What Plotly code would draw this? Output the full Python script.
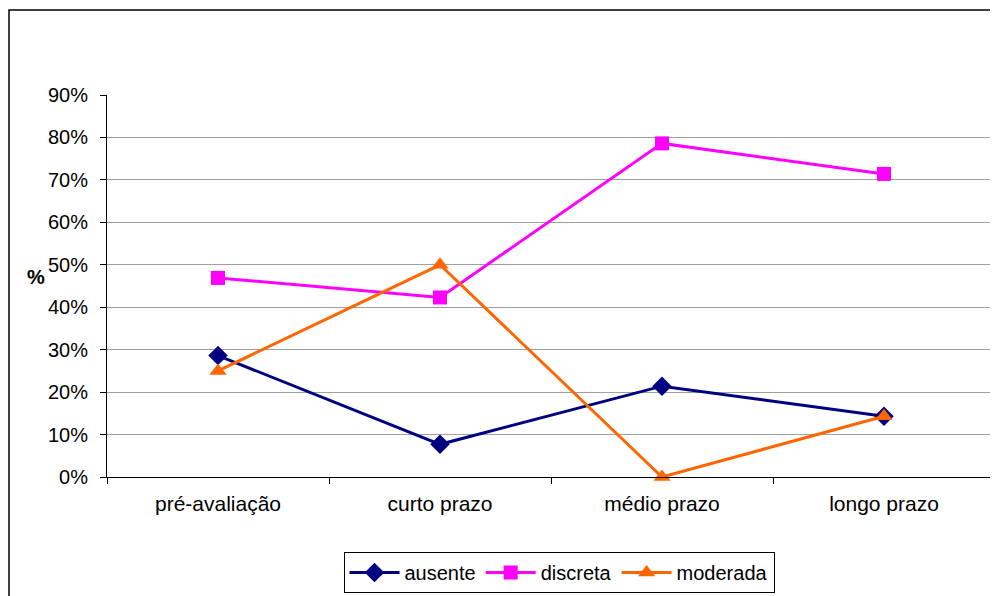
import plotly.graph_objects as go

categorias = ["pré-avaliação", "curto prazo", "médio prazo", "longo prazo"]
ausente = [28.6, 7.7, 21.4, 14.3]
discreta = [46.9, 42.3, 78.6, 71.4]
moderada = [25.0, 50.0, 0.0, 14.3]

# a página tem margem de 8px no body, por isso a figura é menor
OFF = 8
W, H = 998 - OFF, 596 - OFF
L, R, T = 107 - OFF, 3, 95 - OFF
B = H - (477 - OFF)
pw, ph = W - L - R, H - T - B

def px_x(x):
    return (x - OFF - L) / pw

def px_y(y):
    return (H - B - (y - OFF)) / ph

fig = go.Figure()
series = [
    ("ausente", ausente, "#000080", "diamond", 15),
    ("discreta", discreta, "#FF00FF", "square", 14),
    ("moderada", moderada, "#FF6600", "triangle-up", 15),
]
for nome, vals, cor, simb, tam in series:
    fig.add_trace(go.Scatter(
        x=categorias, y=vals, name=nome, mode="lines+markers",
        line=dict(color=cor, width=3),
        marker=dict(symbol=simb, size=tam, color=cor),
        cliponaxis=False,
    ))

fig.update_layout(
    width=W, height=H,
    margin=dict(l=L, r=R, t=T, b=B),
    paper_bgcolor="white", plot_bgcolor="white",
    font=dict(family="Liberation Sans, Arial", size=20, color="black"),
    showlegend=True,
    legend=dict(
        orientation="h", x=px_x(559), xanchor="center",
        y=px_y(552), yanchor="top",
        bordercolor="black", borderwidth=1,
        font=dict(size=20), itemwidth=50,
    ),
    xaxis=dict(
        type="category", range=[-0.5, 3.5],
        showline=True, linecolor="black", linewidth=1,
        ticks="outside", tickson="boundaries", ticklen=6, tickcolor="black",
        showgrid=False, tickfont=dict(size=21), ticklabelstandoff=8,
    ),
    yaxis=dict(
        range=[0, 90], dtick=10, ticksuffix="%",
        showline=True, linecolor="black", linewidth=1,
        ticks="outside", ticklen=6, tickcolor="black",
        showgrid=True, gridcolor="#a0a0a0", gridwidth=1,
        zeroline=False, tickfont=dict(size=20), ticklabelstandoff=8,
    ),
)

fig.add_annotation(
    text="<b>%</b>", xref="paper", yref="paper",
    x=px_x(25), y=px_y(277), showarrow=False, font=dict(size=20),
)

# moldura externa do gráfico
fig.add_shape(
    type="rect", xref="paper", yref="paper",
    x0=px_x(9), y0=px_y(640), x1=px_x(1040), y1=px_y(10),
    line=dict(color="black", width=1.5), layer="below",
)

fig.write_html("out.html")
